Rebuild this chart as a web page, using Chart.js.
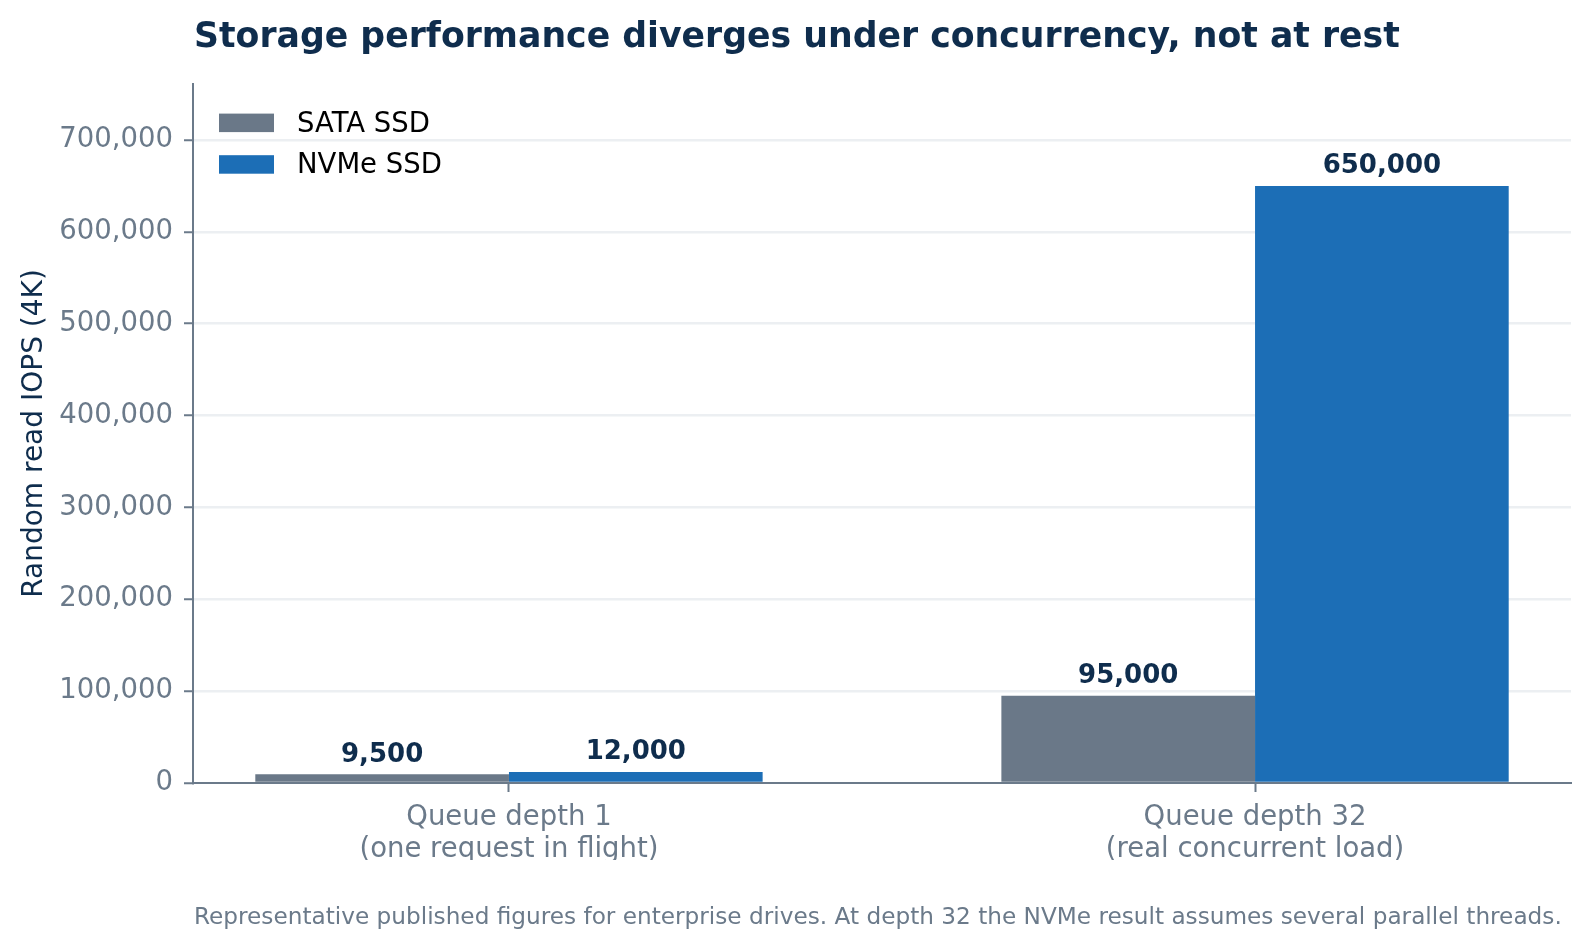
<!DOCTYPE html>
<html>
<head>
<meta charset="utf-8">
<script src="https://cdn.jsdelivr.net/npm/chart.js@4/dist/chart.umd.min.js"></script>
<style>
  html, body { margin: 0; padding: 0; background: #ffffff; }
  #wrap { width: 1591px; height: 948px; position: relative; }
</style>
</head>
<body>
<div id="wrap"><canvas id="c"></canvas></div>
<script>
// ---- data ----
const categories = [
  ["Queue depth 1", "(one request in flight)"],
  ["Queue depth 32", "(real concurrent load)"]
];
const categoryPositions = [0, 1];
const seriesNames = ["SATA SSD", "NVMe SSD"];
const sataValues = [9500, 95000];
const nvmeValues = [12000, 650000];
const yTicks = [0, 100000, 200000, 300000, 400000, 500000, 600000, 700000];
const yMax = 761000;
const titleText = "Storage performance diverges under concurrency, not at rest";
const yAxisTitle = "Random read IOPS (4K)";
const footerText = "Representative published figures for enterprise drives. At depth 32 the NVMe result assumes several parallel threads.";

// ---- styles ----
const COL_SATA = "#6a7888";
const COL_NVME = "#1c6eb6";
const COL_NAVY = "#0f2d4d";
const COL_GREY = "#6b7a8a";
const COL_GRID = "#eceff2";
const FONT = "'DejaVu Sans', sans-serif";

const fmt = v => v.toLocaleString("en-US");

const toPoints = vals => vals.map((v, i) => ({ x: categoryPositions[i], y: v }));

const extrasPlugin = {
  id: "extras",
  afterDraw(chart) {
    const ctx = chart.ctx;
    const area = chart.chartArea;
    ctx.save();
    // Title
    ctx.fillStyle = COL_NAVY;
    ctx.font = "bold 34.7px " + FONT;
    ctx.textAlign = "left";
    ctx.textBaseline = "middle";
    ctx.fillText(titleText, area.left + 1, 38);
    // Footer
    ctx.fillStyle = COL_GREY;
    ctx.font = "23.2px " + FONT;
    ctx.fillText(footerText, area.left + 1, 918);
    // Value labels
    ctx.fillStyle = COL_NAVY;
    ctx.font = "bold 26px " + FONT;
    ctx.textAlign = "center";
    ctx.textBaseline = "alphabetic";
    chart.data.datasets.forEach((ds, di) => {
      const meta = chart.getDatasetMeta(di);
      meta.data.forEach((bar, i) => {
        ctx.fillText(fmt(ds.data[i].y), bar.x, bar.y - 12.5);
      });
    });
    // Legend
    ctx.textAlign = "left";
    ctx.textBaseline = "middle";
    ctx.font = "27.5px " + FONT;
    chart.data.datasets.forEach((ds, di) => {
      const y = area.top + 29.6 + di * 41.6;
      ctx.fillStyle = ds.backgroundColor;
      ctx.fillRect(area.left + 26, y, 55, 18.5);
      ctx.fillStyle = "#000000";
      ctx.fillText(ds.label, area.left + 104, y + 11);
    });
    ctx.restore();
  }
};

new Chart(document.getElementById("c"), {
  type: "bar",
  data: {
    datasets: [
      { label: seriesNames[0], data: toPoints(sataValues), backgroundColor: COL_SATA,
        categoryPercentage: 0.68, barPercentage: 1.0, borderWidth: 0 },
      { label: seriesNames[1], data: toPoints(nvmeValues), backgroundColor: COL_NVME,
        categoryPercentage: 0.68, barPercentage: 1.0, borderWidth: 0 }
    ]
  },
  options: {
    responsive: true,
    maintainAspectRatio: false,
    animation: false,
    devicePixelRatio: 1,
    layout: { padding: { top: 84, right: 20, bottom: 88, left: 0 } },
    plugins: {
      legend: { display: false },
      title: { display: false },
      tooltip: { enabled: false }
    },
    scales: {
      x: {
        type: "linear",
        min: -0.4235,
        max: 1.4235,
        offset: false,
        afterBuildTicks: s => { s.ticks = categoryPositions.map(v => ({ value: v })); },
        afterFit: s => { s.height = 77; },
        ticks: {
          callback: (v) => { const i = categoryPositions.indexOf(v); return i >= 0 ? categories[i] : ""; },
          font: { family: FONT, size: 27.5, lineHeight: 1.15 },
          color: COL_GREY,
          padding: 10,
          maxRotation: 0,
          autoSkip: false
        },
        grid: { display: true, offset: false, drawOnChartArea: false, drawTicks: true, tickLength: 9, tickColor: COL_GREY, tickWidth: 2 },
        border: { display: true, color: COL_GREY, width: 2 }
      },
      y: {
        min: 0,
        max: yMax,
        afterBuildTicks: s => { s.ticks = yTicks.map(v => ({ value: v })); },
        afterFit: s => { s.width = 193; },
        ticks: {
          callback: v => fmt(v),
          font: { family: FONT, size: 27.5 },
          color: COL_GREY,
          padding: 11
        },
        title: {
          display: true,
          text: yAxisTitle,
          font: { family: FONT, size: 28 },
          color: COL_NAVY,
          padding: { top: 18, bottom: 0 }
        },
        grid: {
          color: ctx => (ctx.tick && ctx.tick.value === 0) ? "rgba(0,0,0,0)" : COL_GRID,
          lineWidth: 2.5,
          drawTicks: true,
          tickLength: 9,
          tickColor: COL_GREY,
          tickWidth: 2
        },
        border: { display: true, color: COL_GREY, width: 2 }
      }
    }
  },
  plugins: [extrasPlugin]
});
</script>
</body>
</html>
